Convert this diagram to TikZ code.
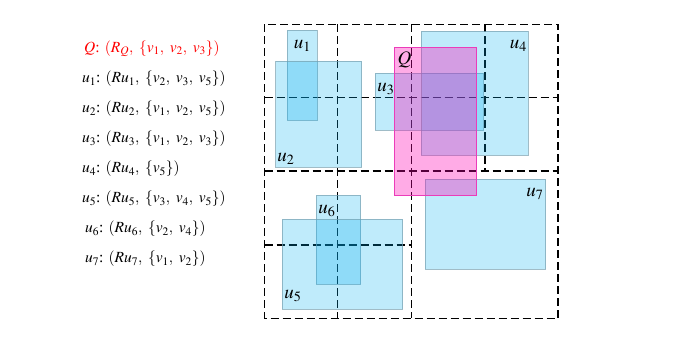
\documentclass[tikz,border=0pt]{standalone}
\usepackage{mathptmx}
\usepackage{fontspec}
\setmainfont{Liberation Serif}
\begin{document}
\begin{tikzpicture}[x=1pt,y=-1pt,
  lbl/.style={font=\fontsize{19}{21}\selectfont, inner sep=0pt},
  txt/.style={font=\fontsize{15.5}{18}\selectfont, anchor=west, inner sep=0pt},
  mbr/.style={fill={rgb,255:red,0;green,174;blue,239}, fill opacity=0.25, draw={rgb,255:red,120;green,160;blue,175}, draw opacity=0.7, line width=0.6pt},
  qbr/.style={fill={rgb,255:red,255;green,0;blue,180}, fill opacity=0.33, draw={rgb,255:red,235;green,60;blue,185}, line width=0.9pt},
  grid/.style={dash pattern=on 8pt off 4pt, line width=1.45pt, black}]
\useasboundingbox (0,0) rectangle (673,343);
% text list
\node[txt, text=red] (tq) at (84,49) {$Q$: $(R_Q,\ \{v_1,\ v_2,\ v_3\})$};
\node[txt] (t1) at (82,79) {$u_1$: $(Ru_1,\ \{v_2,\ v_3,\ v_5\})$};
\node[txt] (t2) at (82,109) {$u_2$: $(Ru_2,\ \{v_1,\ v_2,\ v_5\})$};
\node[txt] (t3) at (82,139) {$u_3$: $(Ru_3,\ \{v_1,\ v_2,\ v_3\})$};
\node[txt] (t4) at (82,169) {$u_4$: $(Ru_4,\ \{v_5\})$};
\node[txt] (t5) at (82,199) {$u_5$: $(Ru_5,\ \{v_3,\ v_4,\ v_5\})$};
\node[txt] (t6) at (85,229) {$u_6$: $(Ru_6,\ \{v_2,\ v_4\})$};
\node[txt] (t7) at (85,259) {$u_7$: $(Ru_7,\ \{v_1,\ v_2\})$};
% grid
\draw[grid] (264.5,24.3) rectangle (558,318.3);
\draw[grid] (411.7,24.3) -- (411.7,318.3);
\draw[grid] (264.5,171) -- (558,171);
\draw[grid] (264.5,97.7) -- (558,97.7);
\draw[grid] (337.7,24.3) -- (337.7,318.3);
\draw[grid] (485,24.3) -- (485,171);
\draw[grid] (264.5,245) -- (411.7,245);
% rectangles
\draw[mbr] (287.3,30.3) rectangle (317.3,120.3);
\draw[mbr] (275.7,61.3) rectangle (361.7,167.3);
\draw[mbr] (375.3,73) rectangle (483,130.3);
\draw[mbr] (421,31.3) rectangle (528.3,155.3);
\draw[mbr] (425.3,179.3) rectangle (545.7,269.3);
\draw[mbr] (316,195) rectangle (360.7,284.3);
\draw[mbr] (282.3,219.3) rectangle (402.7,309.3);
\draw[qbr] (394.3,47.7) rectangle (476.3,195.7);
% labels
\node[lbl] (l1) at (302.5,46) {$u_1$};
\node[lbl] (l2) at (286,159) {$u_2$};
\node[lbl] (l3) at (386,89) {$u_3$};
\node[lbl] (lq) at (404.5,60) {$Q$};
\node[lbl] (l4) at (518.5,46) {$u_4$};
\node[lbl] (l7) at (535,194) {$u_7$};
\node[lbl] (l6) at (327,211) {$u_6$};
\node[lbl] (l5) at (293,296) {$u_5$};
\end{tikzpicture}
\end{document}
